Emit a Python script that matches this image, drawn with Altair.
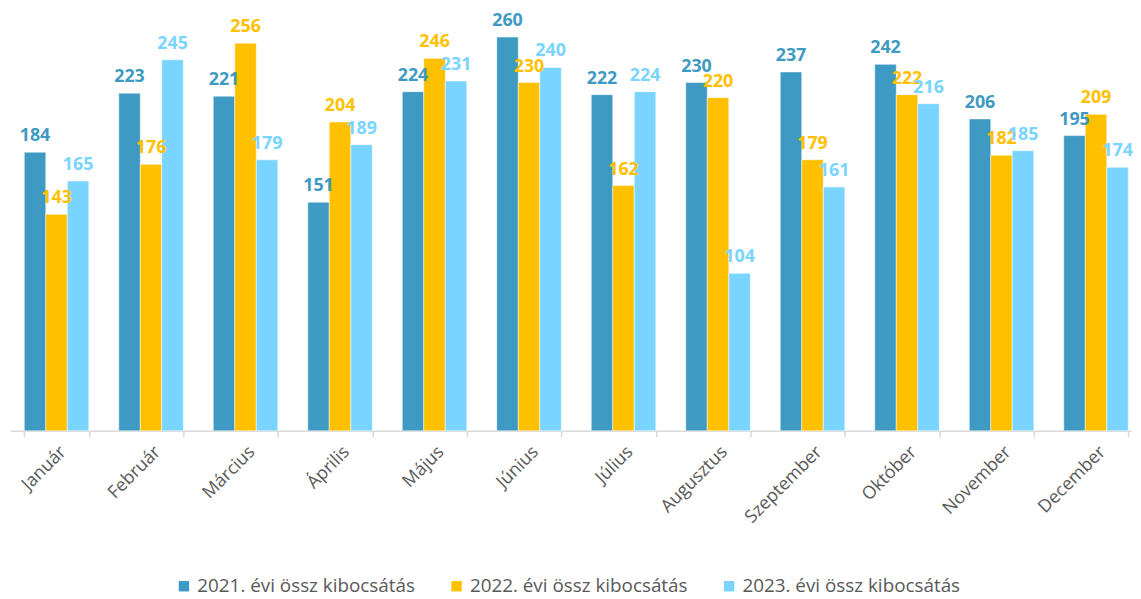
import altair as alt
import pandas as pd

months = ["Január", "Február", "Március", "Április", "Május", "Június",
          "Július", "Augusztus", "Szeptember", "Október", "November", "December"]
series = ["2021. évi össz kibocsátás", "2022. évi össz kibocsátás", "2023. évi össz kibocsátás"]
colors = ["#3F9AC3", "#FFC000", "#79D5FF"]
v2021 = [184, 223, 221, 151, 224, 260, 222, 230, 237, 242, 206, 195]
v2022 = [143, 176, 256, 204, 246, 230, 162, 220, 179, 222, 182, 209]
v2023 = [165, 245, 179, 189, 231, 240, 224, 104, 161, 216, 185, 174]

rows = []
for s, vals in zip(series, [v2021, v2022, v2023]):
    for m, v in zip(months, vals):
        rows.append({"month": m, "series": s, "value": v})
df = pd.DataFrame(rows)

font = "Open Sans"
legend = alt.Legend(
    title=None, orient="none", legendX=166, legendY=571, direction="horizontal",
    symbolType="square", symbolSize=110, symbolStrokeWidth=0,
    labelFont=font, labelFontSize=19, labelColor="#595959",
    columnPadding=32, labelLimit=400,
)
color = alt.Color("series:N", sort=series,
                  scale=alt.Scale(domain=series, range=colors), legend=legend)
x = alt.X("month:N", sort=months,
          scale=alt.Scale(paddingInner=0.317, paddingOuter=0.09, align=0.84),
          axis=alt.Axis(title=None, labelAngle=-45, tickBand="extent",
                        domainColor="#D9D9D9", domainWidth=1.5,
                        tickColor="#D9D9D9", tickWidth=1.5, tickSize=6,
                        labelFont=font, labelFontSize=18, labelColor="#595959",
                        labelPadding=6))
xo = alt.XOffset("series:N", sort=series)
y = alt.Y("value:Q", scale=alt.Scale(domain=[0, 277.5], nice=False), axis=None)

bars = alt.Chart(df).mark_bar(stroke="white", strokeWidth=0.5).encode(
    x=x, xOffset=xo, y=y, color=color)
text = alt.Chart(df).mark_text(
    baseline="bottom", dy=-7, fontWeight="bold", fontSize=18, font=font
).encode(x=x, xOffset=xo, y=y, text="value:Q", color=color)

chart = alt.layer(bars, text).properties(
    width=1131, height=424,
    padding={"left": 2, "top": 0, "right": 0, "bottom": 0},
).configure_view(stroke=None)

chart.save("out.html", embed_options={"renderer": "svg", "actions": False})
